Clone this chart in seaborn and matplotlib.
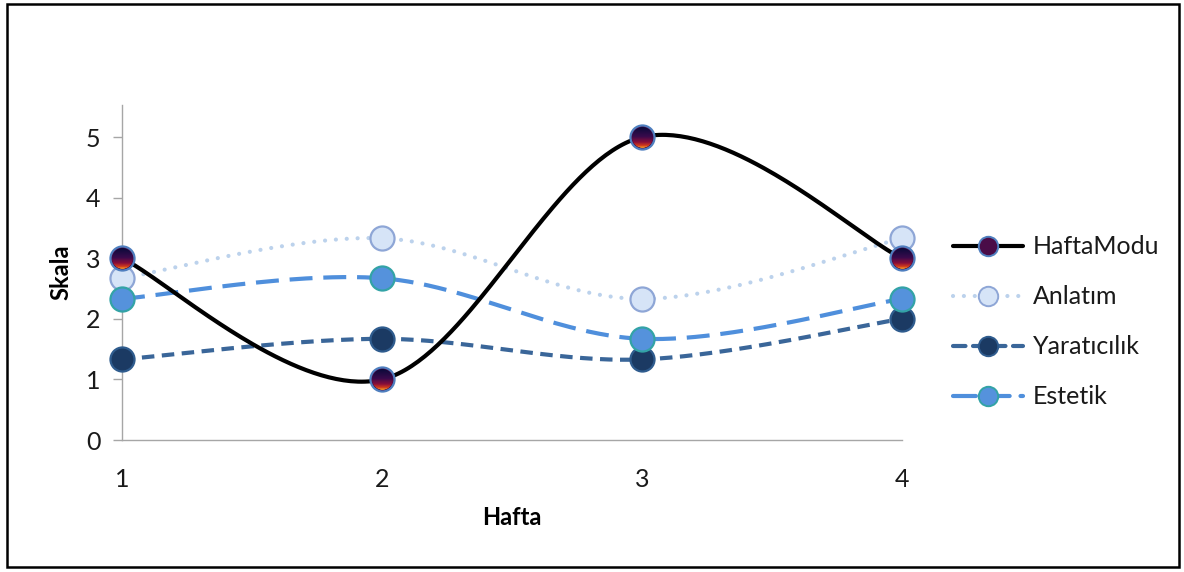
import numpy as np
import matplotlib
matplotlib.use("Agg")
import matplotlib.pyplot as plt
import seaborn as sns
from matplotlib.lines import Line2D
from matplotlib.offsetbox import OffsetImage, AnnotationBbox
from matplotlib.patches import Rectangle
from matplotlib.colors import LinearSegmentedColormap

# ---- data ----
weeks = [1, 2, 3, 4]
hafta_modu = [3, 1, 5, 3]
anlatim = [2.67, 3.33, 2.33, 3.33]
yaraticilik = [1.33, 1.67, 1.33, 2.0]
estetik = [2.33, 2.67, 1.67, 2.33]
series_names = ["HaftaModu", "Anlatım", "Yaratıcılık", "Estetik"]
y_ticks = [0, 1, 2, 3, 4, 5]

sns.set_theme(style="white")
plt.rcParams["font.family"] = ["Lato", "DejaVu Sans"]


def smooth(x, y, n=80):
    """Cubic Bezier path through the points (Catmull-Rom control points)."""
    p = np.column_stack([x, y]).astype(float)
    p = np.vstack([p[0], p, p[-1]])
    t = np.linspace(0, 1, n)[:, None]
    out = []
    for i in range(len(x) - 1):
        p0, p1, p2, p3 = p[i], p[i + 1], p[i + 2], p[i + 3]
        c1 = p1 + (p2 - p0) / 6.0
        c2 = p2 - (p3 - p1) / 6.0
        seg = ((1 - t) ** 3) * p1 + 3 * ((1 - t) ** 2) * t * c1 \
            + 3 * (1 - t) * t ** 2 * c2 + t ** 3 * p2
        out.append(seg if i == 0 else seg[1:])
    out = np.vstack(out)
    return out[:, 0], out[:, 1]


fig = plt.figure(figsize=(11.84, 5.72), dpi=100)
ax = fig.add_axes([122 / 1184, 1 - 440 / 572, 780 / 1184, 335 / 572])

styles = {
    "HaftaModu": dict(vals=hafta_modu, color="black", lw=3.0,
                      ls="-", mfc="#4a0c48", mec="#4f7fbf", z=6),
    "Anlatım": dict(vals=anlatim, color="#bcd2ec", lw=3.0,
                    ls=(0, (0.01, 2.6)), mfc="#d6e4f7", mec="#8ea6d6", z=3),
    "Yaratıcılık": dict(vals=yaraticilik, color="#3a6699", lw=3.0,
                        ls=(0, (3.0, 1.8)), mfc="#1b3a63", mec="#2f5c8e", z=4),
    "Estetik": dict(vals=estetik, color="#4f8fdc", lw=3.0,
                    ls=(0, (5.5, 2.6)), mfc="#5592dc", mec="#33a3a6", z=5),
}

draw_order = ["Anlatım", "Yaratıcılık", "Estetik", "HaftaModu"]
for name in draw_order:
    st = styles[name]
    xs, ys = smooth(weeks, st["vals"])
    line_kw = dict(color=st["color"], linewidth=st["lw"], linestyle=st["ls"], zorder=st["z"])
    if name == "Anlatım":
        line_kw.update(dash_capstyle="round")
    sns.lineplot(x=xs, y=ys, sort=False, estimator=None, ax=ax, **line_kw)
    sns.scatterplot(x=weeks, y=st["vals"], ax=ax, s=300, color=st["mfc"],
                    edgecolor=st["mec"], linewidth=1.6, zorder=st["z"] + 0.5,
                    clip_on=False)

# gradient fill for the HaftaModu markers
N = 88
yy, xx = np.mgrid[0:N, 0:N]
r = np.hypot(xx - (N - 1) / 2, yy - (N - 1) / 2)
alpha = np.clip((N / 2 - r) / 2.0, 0, 1)
grad_cmap = LinearSegmentedColormap.from_list(
    "haftamodu",
    [(0.0, "#0a0a3a"), (0.45, "#3a0a4c"), (0.72, "#8a0e3a"),
     (0.88, "#cf3a1c"), (1.0, "#f7a52a")])
rgba = grad_cmap(np.linspace(0, 1, N))[:, None, :].repeat(N, axis=1)
rgba[..., 3] = alpha
for wx, wy in zip(weeks, hafta_modu):
    img = OffsetImage(rgba, zoom=21 / N * 0.72)
    ab = AnnotationBbox(img, (wx, wy), frameon=False, pad=0,
                        annotation_clip=False, zorder=8)
    ax.add_artist(ab)

ax.set_xlim(1, 4)
ax.set_ylim(0, 5.53)
ax.set_xticks(weeks)
ax.set_xticklabels([str(w) for w in weeks])
ax.set_yticks(y_ticks)
ax.set_yticklabels([str(v) for v in y_ticks])

for side in ["top", "right"]:
    ax.spines[side].set_visible(False)
for side in ["left", "bottom"]:
    ax.spines[side].set_color("#a6a6a6")
    ax.spines[side].set_linewidth(1.0)

ax.tick_params(axis="y", which="major", left=True, length=6.5, width=1,
               color="#a6a6a6", labelsize=18, labelcolor="#1a1a1a", pad=9)
ax.tick_params(axis="x", which="major", bottom=False, labelsize=18,
               labelcolor="#1a1a1a", pad=14)

ax.set_xlabel("Hafta", fontsize=17, fontweight="bold", labelpad=11, color="black")
ax.set_ylabel("Skala", fontsize=17, fontweight="bold", labelpad=10, color="black")
ax.grid(False)

handles = []
for name in series_names:
    st = styles[name]
    h = Line2D([], [], color=st["color"], linewidth=st["lw"], linestyle=st["ls"],
               marker="o", markersize=14, markerfacecolor=st["mfc"],
               markeredgecolor=st["mec"], markeredgewidth=1.4,
               dash_capstyle="round")
    handles.append(h)
leg = fig.legend(handles, series_names, loc="center left",
                 bbox_to_anchor=(953 / 1184, 1 - 322 / 572), frameon=False,
                 fontsize=18, handlelength=2.8, labelspacing=1.08,
                 handletextpad=0.4, borderpad=0, borderaxespad=0)
for t in leg.get_texts():
    t.set_color("#1a1a1a")

# outer frame around the whole chart
fig.add_artist(Rectangle((7 / 1184, 5 / 572), 1172 / 1184, 563 / 572,
                         transform=fig.transFigure, fill=False,
                         edgecolor="black", linewidth=1.8))

fig.savefig("out.png", dpi=100, facecolor="white")
